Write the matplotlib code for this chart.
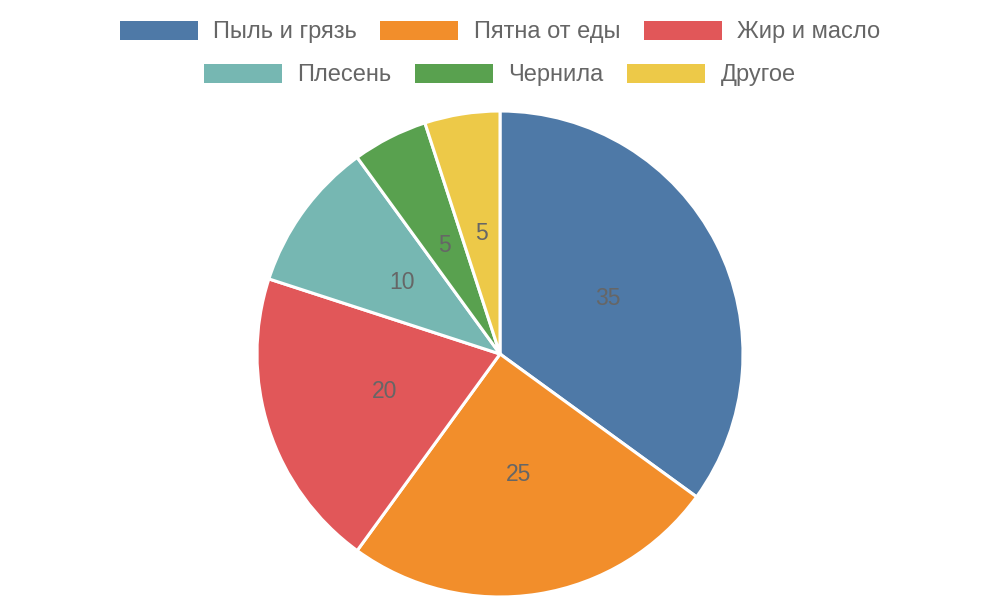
import matplotlib.pyplot as plt
from matplotlib.patches import Patch

labels = ['Пыль и грязь', 'Пятна от еды', 'Жир и масло', 'Плесень', 'Чернила', 'Другое']
values = [35, 25, 20, 10, 5, 5]
colors = ['#4e79a7', '#f28e2b', '#e15759', '#76b7b2', '#59a14f', '#edc948']

plt.rcParams['font.family'] = ['Liberation Sans', 'DejaVu Sans']

fig = plt.figure(figsize=(10, 6), dpi=100)
ax = fig.add_axes([0.257, 0.005, 0.486, 0.81])

wedges, texts, autotexts = ax.pie(
    values, colors=colors, startangle=90, counterclock=False,
    autopct=lambda p: f'{p * sum(values) / 100:.0f}', pctdistance=0.5,
    wedgeprops=dict(edgecolor='white', linewidth=2.2),
    textprops=dict(color='#666666', fontsize=16.5))
ax.set_xlim(-1, 1)
ax.set_ylim(-1, 1)
ax.set_aspect('equal')

handles = [Patch(facecolor=c, edgecolor='none') for c in colors]
common = dict(frameon=False, fontsize=17, handlelength=3.3, handleheight=0.85,
              handletextpad=0.65, columnspacing=1.0, labelcolor='#666666')
fig.legend(handles[:3], labels[:3], ncol=3, loc='center', bbox_to_anchor=(0.5, 1 - 32 / 600), **common)
fig.legend(handles[3:], labels[3:], ncol=3, loc='center', bbox_to_anchor=(0.5, 1 - 75 / 600), **common)

fig.savefig('out.png', dpi=100)
